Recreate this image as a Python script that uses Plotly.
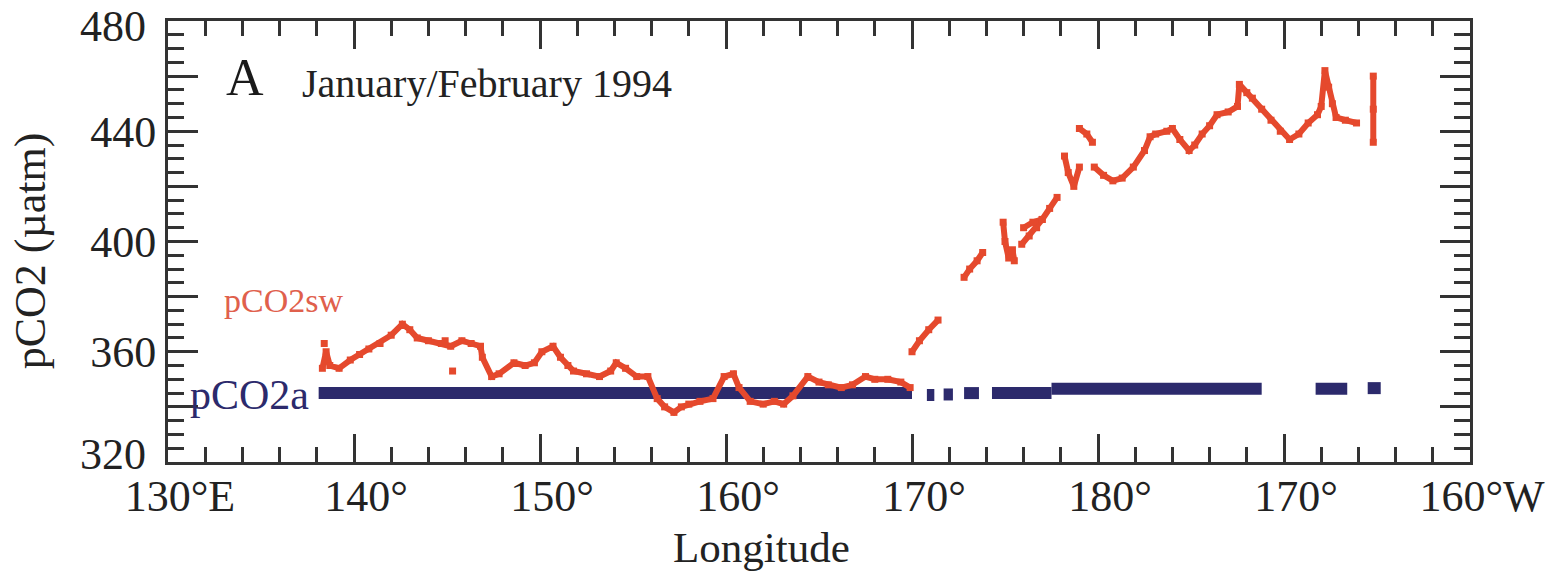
import plotly.graph_objects as go

# ---- data ----
# seawater pCO2 (uatm) along longitude (degrees east; >180 = west)
sw_lon = [138.3, 138.5, 138.7, 139.2, 139.8, 140.3, 140.8, 141.4, 142.0, 142.6, 143.0, 143.4, 144.0,
          144.7, 145.2, 145.8, 146.3, 146.8, 146.9, 147.4, 147.8, 148.6, 149.2, 149.7, 150.1, 150.7,
          151.1, 151.5, 151.8, 152.5, 153.2, 153.8, 154.1, 154.6, 155.2, 155.8, 156.3, 156.7, 157.2,
          157.6, 158.0, 158.6, 159.3, 159.9, 160.4, 160.7, 161.3, 162.0, 162.6, 163.1, 163.6, 164.4,
          165.0, 165.5, 166.2, 166.8, 167.5, 168.0, 168.7, 169.4, 169.9,
          None, 170.0, 170.4, 170.9, 171.4,
          None, 172.8, 173.1, 173.5, 173.8,
          None, 174.9, 175.0, 175.2, 175.4, 175.5,
          None, 175.9, 176.3, 176.7, 177.0, 177.4, 177.8,
          None, 176.0, 176.5, 177.0,
          None, 178.2, 178.4, 178.7, 179.0,
          None, 179.0, 179.4, 179.7,
          None, 179.8, 180.3, 180.8, 181.3, 181.9, 182.5, 182.8, 183.1, 183.7, 184.0, 184.4, 184.9,
          185.2, 185.6, 186.0, 186.4, 187.0, 187.5, 187.6, 188.0, 188.3, 188.8, 189.3, 189.8, 190.3,
          190.8, 191.3, 191.8, 192.0, 192.2, 192.4, 192.6, 192.8, 193.3, 193.9,
          None, 194.8, 194.8, 194.8]
sw_val = [354, 360, 355, 354, 357, 359, 361, 363, 366, 370, 368, 365, 364,
          363, 362, 364, 363, 362, 358, 351, 352, 356, 355, 356, 360, 362,
          358, 355, 353, 352, 351, 353, 356, 354, 351, 351, 343, 340, 338,
          340, 341, 342, 343, 351, 352, 347, 342, 341, 342, 341, 344, 351,
          349, 348, 347, 348, 351, 350, 350, 349, 347,
          None, 360, 364, 368, 371.5,
          None, 387, 390, 393, 396,
          None, 407, 400, 394, 397, 393,
          None, 399, 402, 405, 408, 412, 416,
          None, 405, 407, 408,
          None, 431, 425, 420, 427,
          None, 441, 439, 436,
          None, 427, 424, 422, 423, 427, 433, 438, 439, 440, 441, 437, 433,
          435, 439, 442, 446, 447, 449, 457, 454, 452, 448, 444, 440, 437,
          439, 443, 446, 449, 462, 456, 450, 445, 444, 443,
          None, 436, 448, 460]
# isolated seawater points
sw_iso_lon = [138.4, 145.3, 144.9]
sw_iso_val = [363, 353, 364]

# atmospheric pCO2 (uatm)
air_lon = [138.1, 170.0, None, 170.8, 171.2, None, 171.7, 172.2, None, 172.8, 173.6, None,
           174.3, 177.5, None, 177.5, 188.8, None, 191.7, 193.4, None, 194.5, 195.2]
air_val = [345, 345, None, 344.3, 344.3, None, 344.5, 344.5, None, 345, 345, None,
           345, 345, None, 346.6, 346.6, None, 346.6, 346.6, None, 346.8, 346.8]

x_tickvals = [130, 140, 150, 160, 170, 180, 190, 200]
x_ticktext = ["130°E", "140°", "150°", "160°", "170°", "180°", "170°", "160°W"]
y_tickvals = [320, 340, 360, 380, 400, 420, 440, 460, 480]
y_ticktext = ["", "", "360", "", "400", "", "440", "", ""]
y_bottom_label = "320"
y_top_label = "480"

RED = "#e5492d"
BLUE = "#2c2a6c"
FONT = "Liberation Serif"
DARK = "#333333"

fig = go.Figure()
fig.add_trace(go.Scatter(x=air_lon, y=air_val, mode="lines", connectgaps=False,
                         line=dict(color=BLUE, width=12), hoverinfo="skip"))
fig.add_trace(go.Scatter(x=sw_lon, y=sw_val, mode="lines+markers", connectgaps=False,
                         line=dict(color=RED, width=6),
                         marker=dict(color=RED, size=7, symbol="square"), hoverinfo="skip"))
fig.add_trace(go.Scatter(x=sw_iso_lon, y=sw_iso_val, mode="markers",
                         marker=dict(color=RED, size=7, symbol="square"), hoverinfo="skip"))

axis_common = dict(showline=True, linecolor=DARK, linewidth=3, mirror="allticks",
                   ticks="inside", tickcolor=DARK, tickwidth=3, showgrid=False, zeroline=False,
                   ticklabeloverflow="allow", automargin=False,
                   tickfont=dict(family=FONT, size=44, color="#222222"))

fig.update_xaxes(range=[130, 200], tickvals=x_tickvals, ticktext=x_ticktext, ticklen=28,
                 ticklabelshift=12, ticklabelstandoff=-7,
                 minor=dict(dtick=2, tick0=130, ticklen=15, tickwidth=3, tickcolor=DARK,
                            ticks="inside", showgrid=False),
                 **axis_common)
fig.update_yaxes(range=[320, 480], tickvals=y_tickvals, ticktext=y_ticktext, ticklen=30,
                 minor=dict(dtick=5, tick0=320, ticklen=16, tickwidth=3, tickcolor=DARK,
                            ticks="inside", showgrid=False),
                 **axis_common)

annotations = [
    dict(text=y_bottom_label, x=-0.0154, y=0.016, xanchor="right", yanchor="middle",
         font=dict(family=FONT, size=44, color="#222222")),
    dict(text=y_top_label, x=-0.0154, y=1.0476, xanchor="right", yanchor="top",
         font=dict(family=FONT, size=44, color="#222222")),
    dict(text="A", x=0.0591, y=0.873, xanchor="center", yanchor="middle",
         font=dict(family=FONT, size=52, color="#1a1a1a")),
    dict(text="January/February 1994", x=0.1014, y=0.859, xanchor="left", yanchor="middle",
         font=dict(family=FONT, size=40, color="#222222")),
    dict(text="pCO2sw", x=0.0415, y=0.367, xanchor="left", yanchor="middle",
         font=dict(family=FONT, size=34, color="#e0604c")),
    dict(text="pCO2a", x=0.0154, y=0.152, xanchor="left", yanchor="middle",
         font=dict(family=FONT, size=42, color=BLUE)),
    dict(text="Longitude", x=0.4555, y=-0.193, xanchor="center", yanchor="middle",
         font=dict(family=FONT, size=43, color="#222222")),
    dict(text="pCO2 (µatm)", x=-0.106, y=0.48, xanchor="center", yanchor="middle", textangle=-90,
         font=dict(family=FONT, size=44, color="#222222")),
]
for a in annotations:
    a.update(xref="paper", yref="paper", showarrow=False)

fig.update_layout(width=1555, height=573, margin=dict(l=168, r=85, t=21, b=111, autoexpand=False),
                  paper_bgcolor="white", plot_bgcolor="white", showlegend=False,
                  annotations=annotations)

fig.write_html("out.html")
